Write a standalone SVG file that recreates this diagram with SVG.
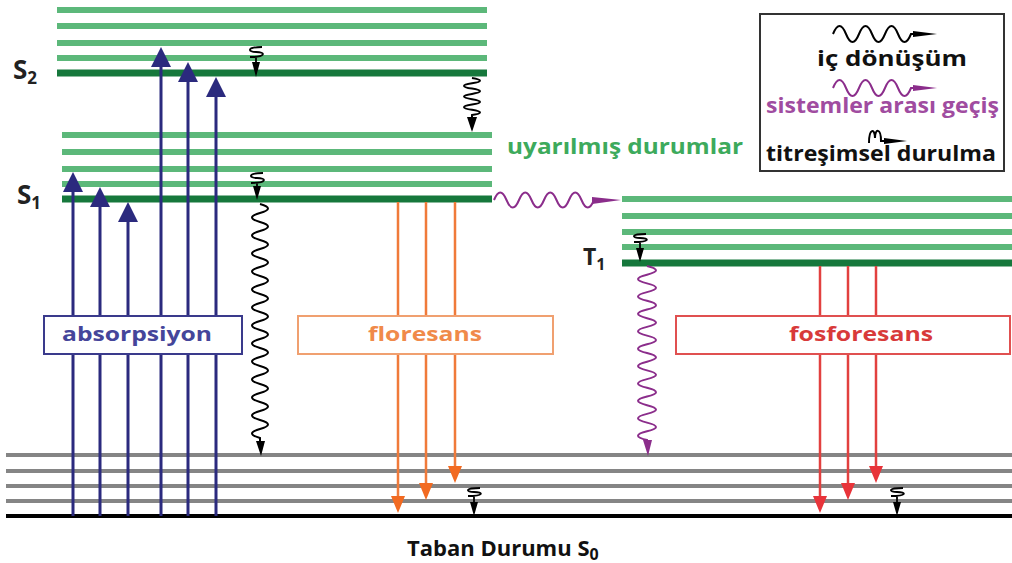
<svg xmlns="http://www.w3.org/2000/svg" width="1012" height="563" viewBox="0 0 1012 563">
<style>
.lg{stroke:#5cb87a;stroke-width:6}
.dg{stroke:#16783c;stroke-width:7}
.gr{stroke:#858585;stroke-width:4}
.bk{stroke:#000;stroke-width:4}
.ab{stroke:#2b2a7e;stroke-width:3}
.abh{fill:#2b2a7e}
.fl{stroke:#f07a3a;stroke-width:2.5}
.flh{fill:#f26a21}
.ph{stroke:#e2403f;stroke-width:2.5}
.phh{fill:#e8343a}
.wb{fill:none;stroke:#000;stroke-width:2}
.wp{fill:none;stroke:#8b2d8b;stroke-width:2}
.t{font-family:"Open Sans","DejaVu Sans",sans-serif;font-weight:bold}
</style>
<rect width="1012" height="563" fill="#fff"/>
<g id="S2">
<line class="lg" x1="57" y1="10" x2="487" y2="10"/>
<line class="lg" x1="57" y1="26" x2="487" y2="26"/>
<line class="lg" x1="57" y1="43" x2="487" y2="43"/>
<line class="lg" x1="57" y1="58" x2="487" y2="58"/>
<line class="dg" x1="57" y1="73" x2="487" y2="73"/>
<text class="t" x="13" y="79" font-size="26" fill="#222">S<tspan font-size="17" dy="5">2</tspan></text>
</g>
<g id="S1">
<line class="lg" x1="62" y1="135" x2="492" y2="135"/>
<line class="lg" x1="62" y1="152" x2="492" y2="152"/>
<line class="lg" x1="62" y1="169" x2="492" y2="169"/>
<line class="lg" x1="62" y1="184" x2="492" y2="184"/>
<line class="dg" x1="62" y1="199" x2="492" y2="199"/>
<text class="t" x="17" y="204" font-size="26" fill="#222">S<tspan font-size="17" dy="5">1</tspan></text>
</g>
<g id="T1">
<line class="lg" x1="622" y1="199" x2="1012" y2="199"/>
<line class="lg" x1="622" y1="216" x2="1012" y2="216"/>
<line class="lg" x1="622" y1="232" x2="1012" y2="232"/>
<line class="lg" x1="622" y1="247" x2="1012" y2="247"/>
<line class="dg" x1="622" y1="263" x2="1012" y2="263"/>
<text class="t" x="583" y="265" font-size="23" fill="#222">T<tspan font-size="16" dy="5">1</tspan></text>
</g>
<g id="S0">
<line class="gr" x1="6" y1="455" x2="1012" y2="455"/>
<line class="gr" x1="6" y1="471" x2="1012" y2="471"/>
<line class="gr" x1="6" y1="486" x2="1012" y2="486"/>
<line class="gr" x1="6" y1="501" x2="1012" y2="501"/>
<line class="bk" x1="6" y1="516" x2="1012" y2="516"/>
<text class="t" x="407" y="556" font-size="22" fill="#111">Taban Durumu S<tspan font-size="16" dy="4">0</tspan></text>
</g>
<g id="connectors">
<line class="ab" x1="73" y1="516" x2="73" y2="185"/>
<line class="ab" x1="100" y1="516" x2="100" y2="200"/>
<line class="ab" x1="128" y1="516" x2="128" y2="215"/>
<line class="ab" x1="161" y1="516" x2="161" y2="60"/>
<line class="ab" x1="188" y1="516" x2="188" y2="75"/>
<line class="ab" x1="216" y1="516" x2="216" y2="90"/>
<path class="abh" d="M73,172 L83,192 L63,192Z M100,187 L110,207 L90,207Z M128,202 L138,222 L118,222Z M161,47 L171,67 L151,67Z M188,62 L198,82 L178,82Z M216,77 L226,97 L206,97Z"/>
<line class="fl" x1="398" y1="202" x2="398" y2="500"/>
<line class="fl" x1="426" y1="202" x2="426" y2="487"/>
<line class="fl" x1="455" y1="202" x2="455" y2="470"/>
<path class="flh" d="M398,513 L391,496 L405,496Z M426,500 L419,483 L433,483Z M455,483 L448,466 L462,466Z"/>
<line class="ph" x1="820" y1="266" x2="820" y2="500"/>
<line class="ph" x1="848" y1="266" x2="848" y2="487"/>
<line class="ph" x1="876" y1="266" x2="876" y2="470"/>
<path class="phh" d="M820,513 L813,496 L827,496Z M848,500 L841,483 L855,483Z M876,483 L869,466 L883,466Z"/>
<path class="wb" d="M472,78 q16,2.7 0,5.3 t0,5.3 t0,5.3 t0,5.3 t0,5.3 t0,5.3 t0,5.3 L472,118"/>
<path d="M467,117 L477,117 L472,132Z" fill="#000"/>
<path class="wb" d="M260,204 q16,4.5 0,9 t0,9 t0,9 t0,9 t0,9 t0,9 t0,9 t0,9 t0,9 t0,9 t0,9 t0,9 t0,9 t0,9 t0,9 t0,9 t0,9 t0,9 t0,9 t0,9 t0,9 t0,9 t0,9 t0,9 t0,9 t0,9 L260,442"/>
<path d="M256,441 L265,441 L261,456Z" fill="#000"/>
<path class="wp" d="M494,200 q6.25,-15 12.5,0 t12.5,0 t12.5,0 t12.5,0 t12.5,0 t12.5,0 t12.5,0 t12.5,0 L598,200"/>
<path d="M592,197 L621,200 L592,204Z" fill="#8b2d8b"/>
<path class="wp" d="M647,266 q18,4.35 0,8.7 t0,8.7 t0,8.7 t0,8.7 t0,8.7 t0,8.7 t0,8.7 t0,8.7 t0,8.7 t0,8.7 t0,8.7 t0,8.7 t0,8.7 t0,8.7 t0,8.7 t0,8.7 t0,8.7 t0,8.7 t0,8.7 t0,8.7 L647,442"/>
<path d="M643,440 L652,440 L648,456Z" fill="#8b2d8b"/>
<g id="vr" fill="none" stroke="#000" stroke-width="1.8">
<path d="M262,47 C246,47 248,52 256,52 C266,52 266,57 250,57 M256,57 L256,63"/>
<path d="M263,173 C247,173 249,178 257,178 C267,178 267,183 251,183 M257,183 L257,187"/>
<path d="M646,234 C630,234 632,238 640,238 C650,238 650,242 634,242 M640,242 L640,248"/>
<path d="M480,488 C464,488 466,492 474,492 C484,492 484,496 468,496 M474,496 L474,502"/>
<path d="M903,488 C887,488 889,492 897,492 C907,492 907,496 891,496 M897,496 L897,502"/>
</g>
<path d="M252,62 L260,62 L256,77Z M253,186 L261,186 L257,200Z M636,248 L644,248 L640,262Z M470,502 L478,502 L474,516Z M893,502 L901,502 L897,516Z" fill="#000"/>
</g>
<g id="box-absorpsiyon">
<rect x="44" y="316" width="198" height="38" fill="#fff" stroke="#3a3a8c" stroke-width="2"/>
<text class="t" x="62" y="341" font-size="20" fill="#45459a" textLength="150" lengthAdjust="spacingAndGlyphs">absorpsiyon</text>
</g>
<g id="box-floresans">
<rect x="298" y="316" width="255" height="38" fill="#fff" stroke="#f0a070" stroke-width="2"/>
<text class="t" x="368" y="341" font-size="20" fill="#f08a4a" textLength="114" lengthAdjust="spacingAndGlyphs">floresans</text>
</g>
<g id="box-fosforesans">
<rect x="676" y="316" width="334" height="38" fill="#fff" stroke="#e05050" stroke-width="2"/>
<text class="t" x="789" y="341" font-size="20" fill="#d83a3a" textLength="144" lengthAdjust="spacingAndGlyphs">fosforesans</text>
</g>
<g id="label-uyarilmis">
<text class="t" x="507" y="154" font-size="21" fill="#3daa5c" textLength="236" lengthAdjust="spacingAndGlyphs">uyarılmış durumlar</text>
</g>
<g id="legend">
<rect x="760" y="14" width="244" height="157" fill="#fff" stroke="#333" stroke-width="2"/>
<path class="wb" d="M833,34 q6.5,-16 13,0 t13,0 t13,0 t13,0 t13,0 t13,0 L918,34"/>
<path d="M913,31 L937,34 L913,37Z" fill="#000"/>
<text class="t" x="817" y="66" font-size="21" fill="#111" textLength="150" lengthAdjust="spacingAndGlyphs">iç dönüşüm</text>
<path class="wp" d="M833,88 q6.5,-16 13,0 t13,0 t13,0 t13,0 t13,0 t13,0 L918,88"/>
<path d="M913,85 L937,88 L913,91Z" fill="#8b2d8b"/>
<text class="t" x="766" y="113" font-size="21" fill="#a04ca0" textLength="233" lengthAdjust="spacingAndGlyphs">sistemler arası geçiş</text>
<path class="wb" d="M869,143 C869,128 875,128 875,138 C875,128 881,128 881,141 L886,141"/>
<path d="M884,138 L907,141 L884,144Z" fill="#000"/>
<text class="t" x="766" y="161" font-size="21" fill="#111" textLength="230" lengthAdjust="spacingAndGlyphs">titreşimsel durulma</text>
</g>
</svg>
